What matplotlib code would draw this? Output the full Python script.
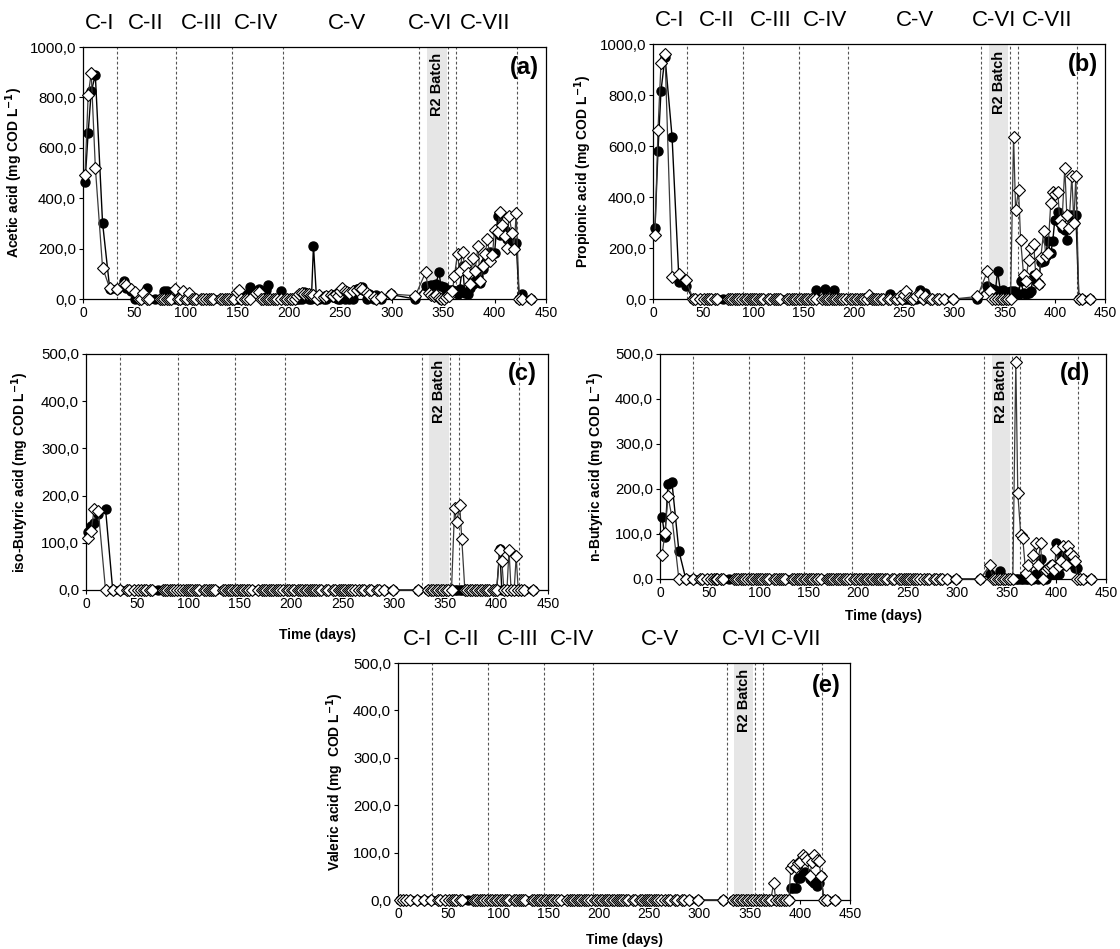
import matplotlib
matplotlib.use('Agg')
import matplotlib.pyplot as plt
import matplotlib.transforms as mtransforms
from matplotlib.ticker import FuncFormatter

plt.rcParams['font.family'] = ['Liberation Sans', 'DejaVu Sans']

# sampling days (R2 = open diamonds, R1 = filled circles)
days_r2 = [
    2, 5, 8, 12, 19, 26, 33,
    40, 42, 47, 51, 54, 56, 58, 62, 64, 75, 77, 79, 82, 84, 86, 89,
    92, 94, 97, 99, 101, 103, 106, 108, 110, 115, 117, 120, 122, 124, 126,
    133, 135, 138, 140, 142, 145,
    147, 150, 152, 154, 157, 159, 162, 168, 171, 173, 175, 178, 180, 182,
    185, 187, 189, 192,
    196, 198, 201, 203, 206, 208, 210, 213, 215, 218, 220, 222, 224, 227,
    229, 234, 236, 241, 243, 246, 248, 250, 252, 255, 257, 259, 262, 266,
    269, 271, 276, 278, 283, 285, 290, 299, 323,
    333, 336, 338, 341, 343, 346, 348, 351, 353, 356,
    359, 361, 364, 366, 369, 371, 374, 376, 379, 381, 384, 386, 389, 391,
    393, 396, 398, 400, 403, 405, 407, 410, 412, 414, 417, 419, 421, 424,
    427, 435,
]
days_r1 = [
    2, 5, 8, 12, 19, 26, 33,
    40, 42, 47, 51, 54, 56, 58, 62, 64, 70, 75, 77, 79, 82, 84, 86, 89,
    92, 94, 97, 99, 101, 103, 106, 108, 110, 115, 117, 120, 122, 124, 126,
    133, 135, 138, 140, 142, 145,
    147, 150, 152, 154, 157, 159, 162, 168, 171, 173, 175, 178, 180, 182,
    185, 187, 189, 192,
    196, 198, 201, 203, 206, 208, 210, 213, 215, 218, 220, 222, 224, 227,
    229, 234, 236, 241, 243, 246, 248, 250, 252, 255, 257, 259, 262, 266,
    269, 271, 276, 278, 283, 285, 290, 299, 323,
    333, 336, 338, 341, 343, 346, 348, 351, 353, 356,
    359, 361, 364, 366, 369, 371, 374, 376, 379, 381, 384, 386, 389, 391,
    393, 396, 398, 400, 403, 405, 407, 410, 412, 414, 417, 419, 421, 424,
    427, 435,
]

# Acetic acid
acetic_r2 = [
    492, 808, 897, 522, 125, 43, 41,
    60, 54, 41, 29, 0, 0, 22, 0, 0, 0, 0, 0, 0, 0, 0, 38,
    0, 0, 32, 0, 0, 25, 0, 0, 0, 0, 0, 0, 0, 0, 0,
    0, 0, 0, 0, 0, 0,
    0, 28, 35, 0, 0, 0, 0, 25, 26, 0, 0, 0, 0, 0,
    0, 0, 0, 0,
    0, 0, 0, 0, 0, 13, 20, 22, 18, 20, 18, 17, 15, 0,
    17, 9, 12, 16, 12, 20, 13, 30, 42, 33, 28, 22, 30, 36,
    45, 40, 22, 15, 9, 0, 8, 20, 13,
    106, 25, 16, 12, 17, 5, 0, 0, 8, 13,
    30, 92, 180, 110, 185, 130, 103, 60, 162, 110, 211, 70, 130, 180,
    238, 150, 176, 275, 265, 347, 295, 250, 202, 330, 262, 200, 341, 0,
    0, 0,
]
acetic_r1 = [
    465, 659, 824, 888, 303, 41, 40,
    70, 45, 30, 0, 0, 0, 20, 42, 0, 0, 0, 0, 30, 33, 0, 0, 0,
    0, 0, 0, 0, 0, 0, 0, 0, 0, 0, 0, 0, 0, 0, 0,
    0, 0, 0, 0, 0, 0,
    0, 0, 0, 0, 0, 20, 49, 30, 41, 20, 0, 35, 54, 0,
    0, 0, 0, 33,
    0, 0, 0, 0, 0, 0, 0, 0, 29, 20, 0, 0, 212, 0,
    0, 0, 0, 15, 10, 5, 0, 0, 10, 0, 20, 0, 0, 40,
    44, 48, 0, 20, 0, 15, 0, 18, 0,
    53, 50, 54, 57, 60, 106, 50, 49, 37, 37,
    37, 30, 20, 40, 133, 24, 20, 42, 60, 70, 92, 65, 120, 143,
    160, 188, 180, 182, 328, 254, 260, 275, 240, 240, 220, 202, 222, 0,
    21, 0,
]

# Propionic acid
propionic_r2 = [
    250, 663, 925, 961, 86, 100, 73,
    0, 0, 0, 0, 0, 0, 0, 0, 0, 0, 0, 0, 0, 0, 0, 0,
    0, 0, 0, 0, 0, 0, 0, 0, 0, 0, 0, 0, 0, 0, 0,
    0, 0, 0, 0, 0, 0,
    0, 0, 0, 0, 0, 0, 0, 0, 0, 0, 0, 0, 0, 0,
    0, 0, 0, 0,
    0, 0, 0, 0, 0, 0, 0, 0, 15, 0, 0, 0, 0, 0,
    0, 0, 0, 0, 0, 10, 0, 15, 30, 5, 0, 0, 12, 20,
    0, 10, 0, 0, 0, 0, 0, 0, 10,
    109, 30, 0, 0, 0, 0, 0, 0, 0, 0,
    637, 349, 427, 231, 93, 70, 152, 200, 216, 100, 60, 160, 266, 170,
    180, 375, 421, 410, 420, 310, 290, 515, 330, 280, 483, 300, 483, 0,
    0, 0,
]
propionic_r1 = [
    280, 580, 816, 950, 637, 65, 50,
    0, 0, 0, 0, 0, 0, 0, 0, 0, 0, 0, 0, 0, 0, 0, 0, 0,
    0, 0, 0, 0, 0, 0, 0, 0, 0, 0, 0, 0, 0, 0, 0,
    0, 0, 0, 0, 0, 0,
    0, 0, 0, 0, 0, 0, 37, 0, 39, 0, 0, 0, 34, 0,
    0, 0, 0, 0,
    0, 0, 0, 0, 0, 0, 0, 0, 0, 0, 0, 0, 0, 0,
    0, 0, 18, 0, 0, 0, 0, 0, 0, 0, 0, 0, 0, 37,
    0, 24, 0, 0, 0, 0, 0, 0, 0,
    51, 45, 41, 35, 109, 30, 35, 25, 28, 30,
    30, 25, 20, 70, 25, 20, 25, 30, 93, 70, 60, 145, 150, 170,
    227, 180, 227, 309, 343, 300, 280, 270, 233, 330, 330, 300, 328, 0,
    0, 0,
]

# iso-Butyric acid
isobutyric_r2 = [
    110, 125, 172, 168, 0, 0, 0,
    0, 0, 0, 0, 0, 0, 0, 0, 0, 0, 0, 0, 0, 0, 0, 0,
    0, 0, 0, 0, 0, 0, 0, 0, 0, 0, 0, 0, 0, 0, 0,
    0, 0, 0, 0, 0, 0,
    0, 0, 0, 0, 0, 0, 0, 0, 0, 0, 0, 0, 0, 0,
    0, 0, 0, 0,
    0, 0, 0, 0, 0, 0, 0, 0, 0, 0, 0, 0, 0, 0,
    0, 0, 0, 0, 0, 0, 0, 0, 0, 0, 0, 0, 0, 0,
    0, 0, 0, 0, 0, 0, 0, 0, 0,
    0, 0, 0, 0, 0, 0, 0, 0, 0, 0,
    173, 143, 180, 108, 0, 0, 0, 0, 0, 0, 0, 0, 0, 0,
    0, 0, 0, 0, 85, 62, 0, 0, 85, 0, 0, 71, 0, 0,
    0, 0,
]
isobutyric_r1 = [
    122, 135, 141, 160, 172, 0, 0,
    0, 0, 0, 0, 0, 0, 0, 0, 0, 0, 0, 0, 0, 0, 0, 0, 0,
    0, 0, 0, 0, 0, 0, 0, 0, 0, 0, 0, 0, 0, 0, 0,
    0, 0, 0, 0, 0, 0,
    0, 0, 0, 0, 0, 0, 0, 0, 0, 0, 0, 0, 0, 0,
    0, 0, 0, 0,
    0, 0, 0, 0, 0, 0, 0, 0, 0, 0, 0, 0, 0, 0,
    0, 0, 0, 0, 0, 0, 0, 0, 0, 0, 0, 0, 0, 0,
    0, 0, 0, 0, 0, 0, 0, 0, 0,
    0, 0, 0, 0, 0, 0, 0, 0, 0, 0,
    0, 0, 0, 0, 0, 0, 0, 0, 0, 0, 0, 0, 0, 0,
    0, 0, 0, 0, 86, 0, 0, 0, 0, 0, 0, 0, 0, 0,
    0, 0,
]

# n-Butyric acid
nbutyric_r2 = [
    53, 102, 184, 138, 0, 0, 0,
    0, 0, 0, 0, 0, 0, 0, 0, 0, 0, 0, 0, 0, 0, 0, 0,
    0, 0, 0, 0, 0, 0, 0, 0, 0, 0, 0, 0, 0, 0, 0,
    0, 0, 0, 0, 0, 0,
    0, 0, 0, 0, 0, 0, 0, 0, 0, 0, 0, 0, 0, 0,
    0, 0, 0, 0,
    0, 0, 0, 0, 0, 0, 0, 0, 0, 0, 0, 0, 0, 0,
    0, 0, 0, 0, 0, 0, 0, 0, 0, 0, 0, 0, 0, 0,
    0, 0, 0, 0, 0, 0, 0, 0, 0,
    31, 0, 0, 0, 0, 0, 0, 0, 0, 0,
    482, 191, 98, 91, 13, 30, 0, 54, 80, 30, 80, 0, 20, 24,
    28, 30, 20, 67, 28, 40, 74, 30, 74, 58, 50, 39, 0, 0,
    0, 0,
]
nbutyric_r1 = [
    138, 93, 211, 216, 63, 0, 0,
    0, 0, 0, 0, 0, 0, 0, 0, 0, 0, 0, 0, 0, 0, 0, 0, 0,
    0, 0, 0, 0, 0, 0, 0, 0, 0, 0, 0, 0, 0, 0, 0,
    0, 0, 0, 0, 0, 0,
    0, 0, 0, 0, 0, 0, 0, 0, 0, 0, 0, 0, 0, 0,
    0, 0, 0, 0,
    0, 0, 0, 0, 0, 0, 0, 0, 0, 0, 0, 0, 0, 0,
    0, 0, 0, 0, 0, 0, 0, 0, 0, 0, 0, 0, 0, 0,
    0, 0, 0, 0, 0, 0, 0, 0, 0,
    10, 5, 0, 0, 18, 0, 0, 0, 0, 0,
    0, 0, 0, 0, 0, 0, 0, 0, 10, 0, 45, 0, 0, 10,
    12, 10, 10, 81, 10, 54, 30, 54, 35, 35, 35, 24, 24, 0,
    0, 0,
]

# Valeric acid
valeric_r2 = [
    0, 0, 0, 0, 0, 0, 0,
    0, 0, 0, 0, 0, 0, 0, 0, 0, 0, 0, 0, 0, 0, 0, 0,
    0, 0, 0, 0, 0, 0, 0, 0, 0, 0, 0, 0, 0, 0, 0,
    0, 0, 0, 0, 0, 0,
    0, 0, 0, 0, 0, 0, 0, 0, 0, 0, 0, 0, 0, 0,
    0, 0, 0, 0,
    0, 0, 0, 0, 0, 0, 0, 0, 0, 0, 0, 0, 0, 0,
    0, 0, 0, 0, 0, 0, 0, 0, 0, 0, 0, 0, 0, 0,
    0, 0, 0, 0, 0, 0, 0, 0, 0,
    0, 0, 0, 0, 0, 0, 0, 0, 0, 0,
    0, 0, 0, 0, 0, 0, 36, 0, 0, 0, 0, 0, 0, 67,
    73, 70, 78, 80, 94, 90, 85, 50, 80, 94, 85, 83, 50, 0,
    0, 0,
]
valeric_r1 = [
    0, 0, 0, 0, 0, 0, 0,
    0, 0, 0, 0, 0, 0, 0, 0, 0, 0, 0, 0, 0, 0, 0, 0, 0,
    0, 0, 0, 0, 0, 0, 0, 0, 0, 0, 0, 0, 0, 0, 0,
    0, 0, 0, 0, 0, 0,
    0, 0, 0, 0, 0, 0, 0, 0, 0, 0, 0, 0, 0, 0,
    0, 0, 0, 0,
    0, 0, 0, 0, 0, 0, 0, 0, 0, 0, 0, 0, 0, 0,
    0, 0, 0, 0, 0, 0, 0, 0, 0, 0, 0, 0, 0, 0,
    0, 0, 0, 0, 0, 0, 0, 0, 0,
    0, 0, 0, 0, 0, 0, 0, 0, 0, 0,
    0, 0, 0, 0, 0, 0, 0, 0, 0, 0, 0, 0, 0, 25,
    25, 25, 46, 46, 55, 59, 55, 45, 40, 36, 30, 36, 50, 0,
    0, 0,
]

# phase boundaries, R2 batch period, phase names
phase_lines = [33.5, 90, 145, 194, 327, 355, 363, 422]
batch_start, batch_end = 334.5, 353.5
phase_names = ['C-I', 'C-II', 'C-III', 'C-IV', 'C-V', 'C-VI', 'C-VII']
phase_pos_a = [16.5, 61, 115, 168, 257, 337, 391]
phase_pos_b = [17, 63, 117, 171, 261, 340, 392]
phase_pos_e = [19, 63, 119, 173, 261, 344, 396]


def comma_fmt(v, pos):
    return f'{v:.1f}'.replace('.', ',')


def draw_panel(ax, r1, r2, ymax, ystep, ylabel, tag, ylab_x, tag_xy):
    ax.axvspan(batch_start, batch_end, color='#e6e6e6', lw=0, zorder=0)
    for x in phase_lines:
        ax.axvline(x, color='#555555', lw=0.8, ls=(0, (2.5, 2)), zorder=1)
    ax.plot(days_r1, r1, '-o', color='black', mfc='black', mec='black',
            ms=6.5, lw=1.0, clip_on=False, zorder=3)
    ax.plot(days_r2, r2, '-D', color='#3a3a3a', mfc='white', mec='black',
            ms=6, mew=0.8, lw=0.9, clip_on=False, zorder=4)
    ax.set_xlim(0, 450)
    ax.set_ylim(0, ymax)
    ax.set_xticks(range(0, 451, 50))
    ax.set_yticks([i * ystep for i in range(int(ymax / ystep) + 1)])
    ax.yaxis.set_major_formatter(FuncFormatter(comma_fmt))
    ax.tick_params(direction='out', length=3, width=0.8, pad=2)
    ax.tick_params(axis='x', labelsize=10)
    ax.tick_params(axis='y', labelsize=10.8)
    for s in ax.spines.values():
        s.set_linewidth(0.9)
    ax.set_ylabel(ylabel, fontsize=10, fontweight='bold')
    ax.yaxis.set_label_coords(ylab_x, 0.5)
    ax.text(tag_xy[0], tag_xy[1], tag, transform=ax.transAxes, ha='right',
            va='top', fontsize=17, fontweight='bold')
    ax.text((batch_start + batch_end) / 2, 0.975, 'R2 Batch',
            transform=mtransforms.blended_transform_factory(ax.transData, ax.transAxes),
            rotation=90, ha='center', va='top', fontsize=10.5, fontweight='bold')


def phase_labels(ax, positions, height_px):
    tr = mtransforms.blended_transform_factory(ax.transData, ax.transAxes)
    for name, x in zip(phase_names, positions):
        ax.text(x, 1 + 24 / height_px, name, transform=tr, ha='center',
                va='center', fontsize=16)


fig = plt.figure(figsize=(11.2, 9.49), dpi=100)

ax_a = fig.add_axes([0.0741, 0.6849, 0.4134, 0.2655])
ax_b = fig.add_axes([0.5830, 0.6849, 0.4036, 0.2687])
ax_c = fig.add_axes([0.0768, 0.3783, 0.4125, 0.2487])
ax_d = fig.add_axes([0.5893, 0.3899, 0.3982, 0.2371])
ax_e = fig.add_axes([0.3554, 0.0516, 0.4036, 0.2497])

draw_panel(ax_a, acetic_r1, acetic_r2, 1000, 200,
           'Acetic acid (mg COD L$^{\\mathbf{-1}}$)', '(a)', -0.125, (0.985, 0.965))
draw_panel(ax_b, propionic_r1, propionic_r2, 1000, 200,
           'Propionic acid (mg COD L$^{\\mathbf{-1}}$)', '(b)', -0.13, (0.985, 0.965))
draw_panel(ax_c, isobutyric_r1, isobutyric_r2, 500, 100,
           'iso-Butyric acid (mg COD L$^{\\mathbf{-1}}$)', '(c)', -0.12, (0.975, 0.965))
draw_panel(ax_d, nbutyric_r1, nbutyric_r2, 500, 100,
           'n-Butyric acid (mg COD L$^{\\mathbf{-1}}$)', '(d)', -0.118, (0.965, 0.965))
draw_panel(ax_e, valeric_r1, valeric_r2, 500, 100,
           'Valeric acid (mg  COD L$^{\\mathbf{-1}}$)', '(e)', -0.115, (0.978, 0.955))

for ax, ly in [(ax_c, -0.16), (ax_d, -0.133), (ax_e, -0.139)]:
    ax.set_xlabel('Time (days)', fontsize=10, fontweight='bold')
    ax.xaxis.set_label_coords(0.5, ly)

phase_labels(ax_a, phase_pos_a, 252)
phase_labels(ax_b, phase_pos_b, 255)
phase_labels(ax_e, phase_pos_e, 237)

fig.savefig('out.png', dpi=100)
